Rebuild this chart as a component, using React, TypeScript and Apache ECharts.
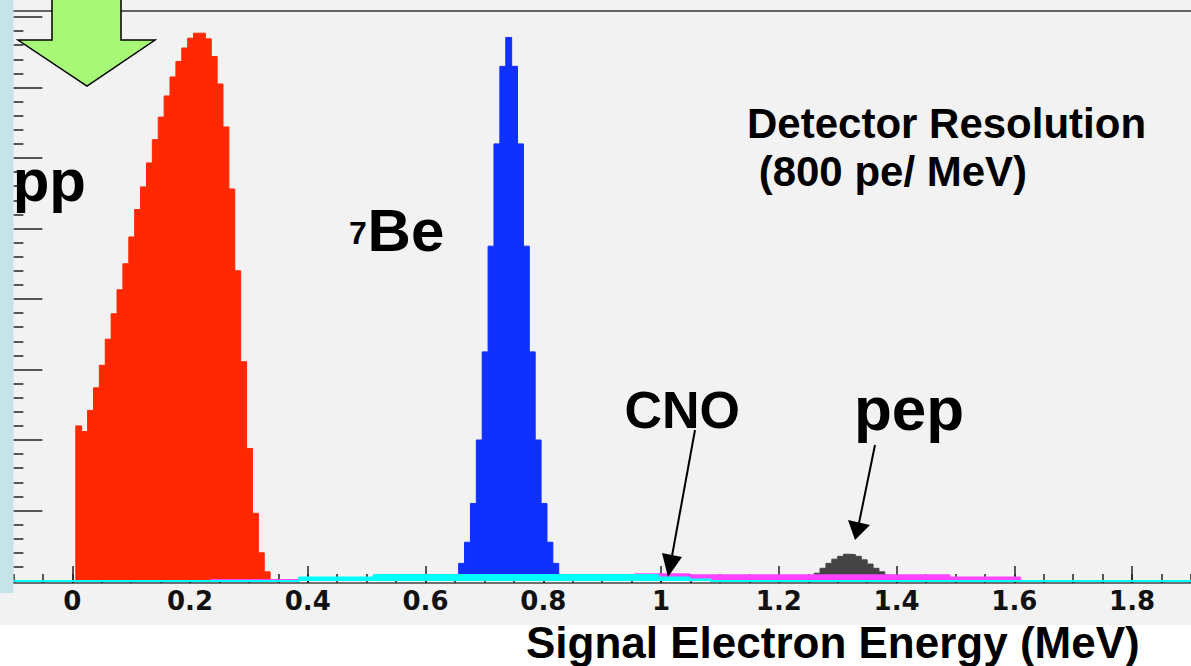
import React, { useEffect, useRef } from "react";
import * as echarts from "echarts";

// ---------- data ----------
const BIN = 0.01;
// pp (red)
const ppStart = 0.006;
const ppCounts = [2.2, 2.12, 2.42, 2.74, 3.06, 3.43, 3.79, 4.13, 4.5, 4.88, 5.27, 5.59, 5.93, 6.26, 6.58, 6.88, 7.15, 7.37, 7.56, 7.7, 7.77, 7.77, 7.69, 7.44, 7.05, 6.44, 5.56, 4.4, 3.11, 1.88, 0.96, 0.4, 0.13];
// 7Be (blue)
const beStart = 0.6562;
const beCounts = [0.25, 0.55, 1.1, 2.0, 3.25, 4.75, 6.2, 7.3, 7.71, 7.3, 6.2, 4.75, 3.25, 2.0, 1.1, 0.55, 0.25];
// pep (dark grey)
const pepStart = 1.24;
const pepCounts = [0.03, 0.07, 0.11, 0.18, 0.25, 0.31, 0.35, 0.38, 0.375, 0.35, 0.3, 0.24, 0.18, 0.13, 0.085, 0.055];
// CNO (magenta), variable-width steps
const cnoEdges = [0.235, 0.955, 1.048, 1.49, 1.61];
const cnoValues = [0.015, 0.095, 0.08, 0.05];
// cyan component
const cyanEdges = [-0.1, 0.385, 0.512, 0.995, 1.048, 1.085, 1.9];
const cyanValues = [0, 0.05, 0.085, 0.05, 0.02, 0];

const xMajorTicks = [0, 0.2, 0.4, 0.6, 0.8, 1, 1.2, 1.4, 1.6, 1.8];

function uniformEdges(start: number, n: number): number[] {
  const e: number[] = [];
  for (let i = 0; i <= n; i++) e.push(+(start + i * BIN).toFixed(4));
  return e;
}

function histPoints(edges: number[], values: number[]): [number, number][] {
  const pts: [number, number][] = [[edges[0], 0]];
  values.forEach((v, i) => pts.push([edges[i], v]));
  pts.push([edges[edges.length - 1], 0]);
  return pts;
}

function histSeries(data: [number, number][], color: string, width: number, z: number) {
  return {
    type: "line",
    step: "end",
    data,
    symbol: "none",
    silent: true,
    xAxisIndex: 0,
    yAxisIndex: 0,
    z,
    lineStyle: { color, width },
    areaStyle: { color, opacity: 1 },
  };
}

const FONT = '"Liberation Sans", Arial, Helvetica, sans-serif';

export default function App() {
  const ref = useRef<HTMLDivElement>(null);

  useEffect(() => {
    if (!ref.current) return;
    const chart = echarts.init(ref.current, undefined, { renderer: "svg" });

    const tickStyle = { color: "#222", width: 1.5 };

    const option: any = {
      animation: false,
      backgroundColor: "#ffffff",
      grid: {
        left: 13.4,
        top: 17,
        width: 1191.2,
        height: 564,
        show: false,
      },
      xAxis: [
        {
          type: "value",
          min: -0.1,
          max: 1.9,
          interval: 0.05,
          position: "bottom",
          offset: 2,
          axisLine: { show: true, onZero: false, lineStyle: { color: "#444", width: 1.5 } },
          axisTick: { show: true, inside: true, length: 9, lineStyle: tickStyle },
          axisLabel: { show: false },
          splitLine: { show: false },
        },
        {
          type: "value",
          min: -0.1,
          max: 1.9,
          position: "bottom",
          offset: 2,
          axisLine: { show: false, onZero: false },
          axisTick: { show: true, inside: true, length: 17, lineStyle: tickStyle, customValues: xMajorTicks },
          axisLabel: {
            show: true,
            customValues: xMajorTicks,
            fontFamily: '"DejaVu Sans"',
            fontWeight: "bold",
            fontSize: 26,
            color: "#111",
            margin: 5,
          },
          splitLine: { show: false },
        },
      ],
      yAxis: {
        type: "value",
        min: 0,
        max: 8,
        interval: 1,
        position: "left",
        axisLine: { show: false, onZero: false },
        axisTick: { show: true, inside: true, length: 29, lineStyle: tickStyle },
        minorTick: { show: true, splitNumber: 5, length: 10, lineStyle: tickStyle },
        axisLabel: { show: false },
        splitLine: { show: false },
        minorSplitLine: { show: false },
      },
      series: [
        histSeries(histPoints(uniformEdges(ppStart, ppCounts.length), ppCounts), "#ff2800", 1, 2),
        histSeries(histPoints(uniformEdges(beStart, beCounts.length), beCounts), "#1030ff", 1, 3),
        histSeries(histPoints(uniformEdges(pepStart, pepCounts.length), pepCounts), "#444444", 1, 4),
        histSeries(histPoints(cnoEdges, cnoValues), "#ff44ff", 2, 5),
        histSeries(histPoints(cyanEdges, cyanValues), "#00ffff", 2.2, 6),
      ],
      graphic: [
        { type: "rect", z: -10, silent: true, shape: { x: 0, y: 0, width: 1191, height: 625 }, style: { fill: "#f2f2f2" } },
        // frame top line
        { type: "line", z: 50, silent: true, shape: { x1: 13, y1: 11, x2: 1191, y2: 11 }, style: { stroke: "#333", lineWidth: 1.5 } },
        // truncated top-axis title (only descenders visible, as in the reference)
        { type: "text", z: 40, silent: true, style: { text: "Visible Energy (pe)", x: 814, y: -19, font: `bold 34px ${FONT}`, fill: "#000", align: "right", verticalAlign: "middle" } },
        { type: "rect", z: 100, silent: true, shape: { x: 0, y: 0, width: 13.5, height: 593 }, style: { fill: "#c5e3e8" } },
        {
          type: "polygon",
          z: 100,
          silent: true,
          shape: { points: [[52, -5], [121, -5], [121, 40], [155, 40], [87, 86], [18, 40], [52, 40]] },
          style: { fill: "#a8f878", stroke: "#000", lineWidth: 1.5 },
        },
        { type: "text", z: 100, silent: true, style: { text: "pp", x: 12.7, y: 180, font: `bold 60px ${FONT}`, fill: "#000", verticalAlign: "middle" } },
        { type: "text", z: 100, silent: true, style: { text: "7", x: 349, y: 233, font: `bold 32px ${FONT}`, fill: "#000", verticalAlign: "middle" } },
        { type: "text", z: 100, silent: true, style: { text: "Be", x: 367.6, y: 230, font: `bold 60px ${FONT}`, fill: "#000", verticalAlign: "middle" } },
        { type: "text", z: 100, silent: true, style: { text: "CNO", x: 624.4, y: 410, font: `bold 52px ${FONT}`, fill: "#000", verticalAlign: "middle" } },
        { type: "text", z: 100, silent: true, style: { text: "pep", x: 854, y: 408.5, font: `bold 62px ${FONT}`, fill: "#000", verticalAlign: "middle" } },
        { type: "text", z: 100, silent: true, style: { text: "Detector Resolution", x: 747, y: 123.4, font: `bold 42px ${FONT}`, fill: "#000", verticalAlign: "middle" } },
        { type: "text", z: 100, silent: true, style: { text: " (800 pe/ MeV)", x: 747, y: 171.5, font: `bold 42px ${FONT}`, fill: "#000", verticalAlign: "middle" } },
        { type: "text", z: 100, silent: true, style: { text: "Signal Electron Energy (MeV)", x: 526, y: 642.5, font: `bold 44px ${FONT}`, fill: "#000", verticalAlign: "middle" } },
        // arrows
        { type: "line", z: 100, silent: true, shape: { x1: 695, y1: 430, x2: 672, y2: 556 }, style: { stroke: "#000", lineWidth: 2 } },
        { type: "polygon", z: 100, silent: true, shape: { points: [[668, 577], [662, 553], [682, 557]] }, style: { fill: "#000" } },
        { type: "line", z: 100, silent: true, shape: { x1: 875, y1: 445, x2: 859, y2: 523 }, style: { stroke: "#000", lineWidth: 2 } },
        { type: "polygon", z: 100, silent: true, shape: { points: [[855, 540], [848, 520], [870, 525]] }, style: { fill: "#000" } },
      ],
    };

    chart.setOption(option);
    return () => chart.dispose();
  }, []);

  return (
    <div
      ref={ref}
      style={{ position: "absolute", left: 0, top: 0, width: 1191, height: 666 }}
    />
  );
}
